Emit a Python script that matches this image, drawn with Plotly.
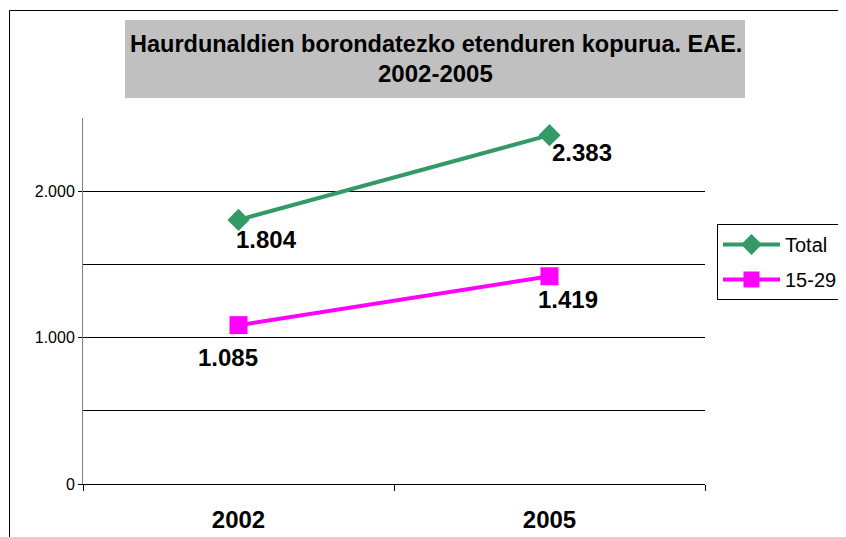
import plotly.graph_objects as go

years = ["2002", "2005"]
total = [1804, 2383]
young = [1085, 1419]
total_labels = ["1.804", "2.383"]
young_labels = ["1.085", "1.419"]
y_tick_vals = [0, 1000, 2000]
y_tick_text = ["0", "1.000", "2.000"]

FONT = "Arial, Liberation Sans, sans-serif"
GREEN = "#339966"
MAGENTA = "#FF00FF"

# page body has an 8px margin: plot area must land at x 83..705, y 118..484 on screen
OFF = 8
PL, PR, PT, PB = 83, 705, 118, 484
PW, PH = PR - PL, PB - PT


def px(x):
    return (x - PL) / PW


def py(y):
    return (PB - y) / PH


fig = go.Figure()
fig.add_trace(go.Scatter(x=years, y=total, name="Total", mode="lines+markers",
                         legendgroup="a",
                         line=dict(color=GREEN, width=4),
                         marker=dict(symbol="diamond", size=17, color=GREEN)))
fig.add_trace(go.Scatter(x=years, y=young, name="15-29", mode="lines+markers",
                         legendgroup="b",
                         line=dict(color=MAGENTA, width=4),
                         marker=dict(symbol="square", size=18, color=MAGENTA)))

# data labels (category index positions)
label_offsets_total = [(28, -20), (32, -17)]
label_offsets_young = [(-11, -32), (18, -23)]
for i, (y, t, (dx, dy)) in enumerate(zip(total, total_labels, label_offsets_total)):
    fig.add_annotation(x=i, y=y, xref="x", yref="y", text=t, showarrow=False,
                       xshift=dx, yshift=dy,
                       font=dict(family=FONT, size=24, color="black", weight="bold"))
for i, (y, t, (dx, dy)) in enumerate(zip(young, young_labels, label_offsets_young)):
    fig.add_annotation(x=i, y=y, xref="x", yref="y", text=t, showarrow=False,
                       xshift=dx, yshift=dy,
                       font=dict(family=FONT, size=24, color="black", weight="bold"))

# title box
fig.add_shape(type="rect", xref="paper", yref="paper",
              x0=px(125), x1=px(745), y0=py(98), y1=py(20),
              fillcolor="#C0C0C0", line=dict(width=0), layer="below")
fig.add_annotation(xref="paper", yref="paper", x=px(436), y=py(44),
                   text="Haurdunaldien borondatezko etenduren kopurua. EAE.",
                   showarrow=False, xanchor="center", yanchor="middle",
                   font=dict(family=FONT, size=23.5, color="black", weight="bold"))
fig.add_annotation(xref="paper", yref="paper", x=px(435), y=py(73),
                   text="2002-2005",
                   showarrow=False, xanchor="center", yanchor="middle",
                   font=dict(family=FONT, size=24, color="black", weight="bold"))

# outer chart border
fig.add_shape(type="rect", xref="paper", yref="paper",
              x0=px(9.5), x1=px(880), y0=py(580), y1=py(10.5),
              line=dict(color="black", width=1), fillcolor="rgba(0,0,0,0)")

W, H = 846 - OFF, 537 - OFF
fig.update_layout(
    width=W, height=H,
    margin=dict(l=PL - OFF, r=W - (PR - OFF), t=PT - OFF, b=H - (PB - OFF),
                autoexpand=False),
    paper_bgcolor="white", plot_bgcolor="white",
    font=dict(family=FONT, color="black"),
    showlegend=True,
    legend=dict(x=px(717), y=py(224), xanchor="left", yanchor="top",
                bordercolor="black", borderwidth=1, bgcolor="white",
                font=dict(family=FONT, size=20, color="black"),
                traceorder="grouped", tracegroupgap=6, itemwidth=57),
    xaxis=dict(type="category", range=[-0.5, 1.5], tickson="boundaries",
               ticks="outside", ticklen=6, tickcolor="black", automargin=False,
               showline=True, linecolor="black", linewidth=1,
               showgrid=False, zeroline=False, ticklabelstandoff=14,
               tickfont=dict(family=FONT, size=24, color="black", weight="bold")),
    yaxis=dict(range=[0, 2500], tickvals=y_tick_vals, ticktext=y_tick_text,
               ticks="outside", ticklen=4, tickcolor="black", automargin=False,
               showline=True, linecolor="#808080", linewidth=1,
               showgrid=True, gridcolor="black", gridwidth=1, zeroline=False,
               minor=dict(dtick=500, showgrid=True, gridcolor="black", gridwidth=1, ticks=""),
               tickfont=dict(family=FONT, size=16, color="black")),
)

fig.write_html("out.html")
